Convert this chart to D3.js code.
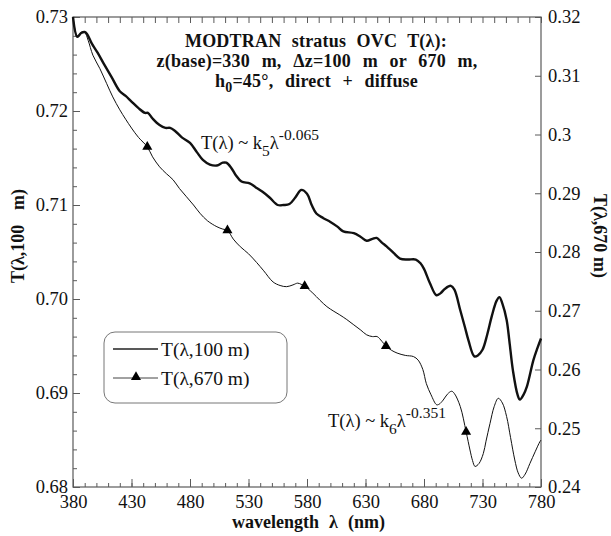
<!DOCTYPE html>
<html><head><meta charset="utf-8">
<script src="https://cdn.jsdelivr.net/npm/d3@7"></script>
<style>
body{margin:0;background:#fff;}
svg{display:block;font-family:"Liberation Serif","Times New Roman",serif;}
</style></head><body>
<svg id="c" width="611" height="536"></svg>
<script>
// ---- data ----
const wl100 = [380,383.7,387,390,392,396,401,406,413,420,425,430,436,441.5,444,448,454,459,463,467,473,480,486,491,497,503,508,511,515,519,524,531,536,542,548,555,560,565,570,575,580,584,588,594,600,606,611,620,626,631,636,639.5,644,648,654,659.5,666,673,677,680,685,690.6,694,698,703,706,711,715,718,723,726,730,734,738,742,744.5,747,750.6,753,756,760,762,765,768,773.5,777,780];
const t100 = [0.7300,0.7279,0.7283,0.7284,0.7282,0.7272,0.7262,0.7251,0.7236,0.7221,0.7216,0.7210,0.7203,0.7198,0.7198,0.7192,0.7185,0.7182,0.7182,0.7179,0.7172,0.7166,0.7156,0.7148,0.7143,0.7142,0.7145,0.7145,0.7140,0.7132,0.7125,0.7123,0.7119,0.7114,0.7108,0.7100,0.7100,0.7101,0.7108,0.7116,0.7112,0.7100,0.7091,0.7086,0.7082,0.7077,0.7072,0.7070,0.7066,0.7062,0.7064,0.7065,0.7060,0.7056,0.7049,0.7043,0.7042,0.7042,0.7038,0.7032,0.7017,0.7004,0.7006,0.7011,0.7014,0.7010,0.6988,0.6970,0.6956,0.6939,0.6940,0.6946,0.6962,0.6982,0.6998,0.7002,0.6995,0.6978,0.6955,0.6924,0.6898,0.6893,0.6898,0.6907,0.6935,0.6948,0.6958];
const wl670 = [380,383.7,387,390,393,397,403,408.7,414,420,425,430,436,443.5,448,454,460,465.5,471,477,483,488.5,495,503,508,512,517,523,530,537,543,551,557,562.6,568,572,575,578,585,591,597,603,608,614,620,626,631,636,640,644,647.5,652,657,664,671,675,679,682,686,690.8,693,696.4,700,703.6,706,711,716,719.3,721.5,723.6,727,730.7,733,736.4,740,743.5,747,750.6,754,757.6,760.5,763.4,766.5,770.5,775,779,780];
const t670 = [0.3200,0.3167,0.3174,0.3174,0.3160,0.3135,0.3112,0.3087,0.3064,0.3042,0.3026,0.3011,0.2995,0.2979,0.2962,0.2945,0.2933,0.2923,0.2908,0.2894,0.2880,0.2866,0.2853,0.2843,0.2839,0.2837,0.2822,0.2809,0.2797,0.2782,0.2768,0.2749,0.2743,0.2741,0.2744,0.2747,0.2745,0.2742,0.2730,0.2718,0.2707,0.2699,0.2693,0.2685,0.2676,0.2667,0.2659,0.2656,0.2656,0.2648,0.2640,0.2633,0.2628,0.2624,0.2622,0.2616,0.2600,0.2576,0.2557,0.2540,0.2541,0.2548,0.2558,0.2563,0.2559,0.2537,0.2494,0.2463,0.2445,0.2435,0.2440,0.2457,0.2478,0.2508,0.2537,0.2551,0.2543,0.2520,0.2484,0.2446,0.2424,0.2415,0.2422,0.2440,0.2460,0.2477,0.2480];
const markerWl670 = [443.5,512,578,647.5,716];
const xTicks = [380,430,480,530,580,630,680,730,780];
const yLeftTicks = [0.68,0.69,0.70,0.71,0.72,0.73];
const yLeftLabels = ["0.68","0.69","0.70","0.71","0.72","0.73"];
const yRightTicks = [0.24,0.25,0.26,0.27,0.28,0.29,0.30,0.31,0.32];
const yRightLabels = ["0.24","0.25","0.26","0.27","0.28","0.29","0.3","0.31","0.32"];
const seriesNames = ["T(λ,100 m)","T(λ,670 m)"];

// ---- layout ----
const svg = d3.select("#c");
const X0=73, X1=541, Y0=17, Y1=487;
const x = d3.scaleLinear().domain([380,780]).range([X0,X1]);
const yL = d3.scaleLinear().domain([0.68,0.73]).range([Y1,Y0]);
const yR = d3.scaleLinear().domain([0.24,0.32]).range([Y1,Y0]);
const axisCol = "#5a5a5a";
const FONT = "'Liberation Serif','Times New Roman',serif";

function styleAxis(g){
  g.attr("font-family",FONT);
  g.select(".domain").remove();
  g.selectAll(".tick line").attr("stroke",axisCol).attr("stroke-width",1);
  g.selectAll(".tick text").attr("fill","#111").style("font-size","18.5px").style("font-family",FONT);
}
const minorX = d3.range(380,781,10);
const minorY = d3.range(0,26).map(i=>+(0.68+i*0.002).toFixed(3));

// bottom axis
svg.append("g").attr("transform",`translate(0,${Y1})`)
  .call(d3.axisBottom(x).tickValues(minorX).tickSize(-4).tickFormat(""))
  .call(styleAxis);
svg.append("g").attr("transform",`translate(0,${Y1})`)
  .call(d3.axisBottom(x).tickValues(xTicks).tickSize(-8).tickPadding(8).tickFormat(d3.format("d")))
  .call(styleAxis);
// top axis
svg.append("g").attr("transform",`translate(0,${Y0})`)
  .call(d3.axisTop(x).tickValues(minorX).tickSize(-6).tickFormat(""))
  .call(styleAxis);
// left axis
svg.append("g").attr("transform",`translate(${X0},0)`)
  .call(d3.axisLeft(yL).tickValues(minorY).tickSize(-4).tickFormat(""))
  .call(styleAxis);
svg.append("g").attr("transform",`translate(${X0},0)`)
  .call(d3.axisLeft(yL).tickValues(yLeftTicks).tickSize(-7).tickPadding(5).tickFormat((d,i)=>yLeftLabels[i]))
  .call(styleAxis);
// right axis
svg.append("g").attr("transform",`translate(${X1},0)`)
  .call(d3.axisRight(yR).tickValues(yRightTicks).tickSize(-6).tickPadding(7).tickFormat((d,i)=>yRightLabels[i]))
  .call(styleAxis);
// frame
svg.append("rect").attr("x",X0).attr("y",Y0).attr("width",X1-X0).attr("height",Y1-Y0)
  .attr("fill","none").attr("stroke",axisCol).attr("stroke-width",1.2);

// ---- curves ----
const d100 = wl100.map((w,i)=>[w,t100[i]]);
const d670 = wl670.map((w,i)=>[w,t670[i]]);
const line100 = d3.line().x(d=>x(d[0])).y(d=>yL(d[1])).curve(d3.curveCatmullRom.alpha(0.5));
const line670 = d3.line().x(d=>x(d[0])).y(d=>yR(d[1])).curve(d3.curveCatmullRom.alpha(0.5));
svg.append("path").datum(d670).attr("d",line670).attr("fill","none").attr("stroke","#111").attr("stroke-width",1);
svg.append("path").datum(d100).attr("d",line100).attr("fill","none").attr("stroke","#111").attr("stroke-width",2.4).attr("stroke-linejoin","round");

const tri = d3.symbol().type(d3.symbolTriangle).size(44);
const interp670 = w => {
  const i = d3.bisectLeft(wl670,w);
  if (wl670[i]===w) return t670[i];
  const a=i-1,b=i; const f=(w-wl670[a])/(wl670[b]-wl670[a]);
  return t670[a]+f*(t670[b]-t670[a]);
};
svg.append("g").selectAll("path").data(markerWl670).join("path")
  .attr("d",tri).attr("fill","#000")
  .attr("transform",w=>`translate(${x(w)},${yR(interp670(w))})`);

// stretch inter-word gaps so a text line reaches a target width
function fitWords(sel, target){
  const n = sel.node();
  const L = n.getComputedTextLength();
  const k = (n.textContent.match(/ /g)||[]).length;
  if (k>0 && target>L) sel.attr("word-spacing", ((target-L)/k).toFixed(2));
  return sel;
}

// ---- title ----
const title = svg.append("g").attr("font-weight","bold").attr("fill","#111")
  .style("font-size","18px").attr("letter-spacing","0.2");
fitWords(title.append("text").attr("x",316).attr("y",47).attr("text-anchor","middle")
  .text("MODTRAN stratus OVC T(λ):"),262);
fitWords(title.append("text").attr("x",317).attr("y",67).attr("text-anchor","middle")
  .text("z(base)=330 m, Δz=100 m or 670 m,"),321);
const t3 = title.append("text").attr("x",316.5).attr("y",87).attr("text-anchor","middle");
t3.append("tspan").text("h");
t3.append("tspan").attr("dy",5).style("font-size","14px").text("0");
t3.append("tspan").attr("dy",-5).text("=45°, direct + diffuse");
fitWords(t3,203);

// ---- axis titles ----
fitWords(svg.append("text").attr("transform","translate(24,236) rotate(-90)").attr("text-anchor","middle")
  .attr("font-weight","bold").style("font-size","18px").attr("fill","#111").text("T(λ,100 m)"),94);
fitWords(svg.append("text").attr("transform","translate(594,236) rotate(90)").attr("text-anchor","middle")
  .attr("font-weight","bold").style("font-size","18px").attr("fill","#111").text("T(λ,670 m)"),84);
fitWords(svg.append("text").attr("x",308.5).attr("y",528).attr("text-anchor","middle")
  .attr("font-weight","bold").style("font-size","18px").attr("fill","#111").text("wavelength λ (nm)"),153);

// ---- annotations ----
function powerLabel(xp, yp, k, expo){
  const t = svg.append("text").attr("x",xp).attr("y",yp).attr("fill","#111").style("font-size","18.5px");
  t.append("tspan").text("T(λ) ~ k");
  t.append("tspan").attr("dy",7).style("font-size","15.5px").text(k);
  t.append("tspan").attr("dy",-7).text("λ");
  t.append("tspan").attr("dy",-9).style("font-size","15.5px").text(expo);
}
powerLabel(201,149,"5","-0.065");
powerLabel(328,427,"6","-0.351");

// ---- legend ----
const lg = svg.append("g");
lg.append("rect").attr("x",104).attr("y",332).attr("width",183).attr("height",71).attr("rx",11)
  .attr("fill","#fff").attr("stroke","#777").attr("stroke-width",1);
lg.append("line").attr("x1",113).attr("x2",158).attr("y1",349).attr("y2",349).attr("stroke","#222").attr("stroke-width",1.6);
lg.append("line").attr("x1",113).attr("x2",158).attr("y1",378).attr("y2",378).attr("stroke","#444").attr("stroke-width",1);
lg.append("path").attr("d",tri).attr("fill","#000").attr("transform","translate(136,377)");
lg.selectAll("text.l").data(seriesNames).join("text").attr("class","l")
  .attr("x",161).attr("y",(d,i)=>356+i*29).attr("fill","#111").style("font-size","19.5px").text(d=>d);
</script>
</body></html>
